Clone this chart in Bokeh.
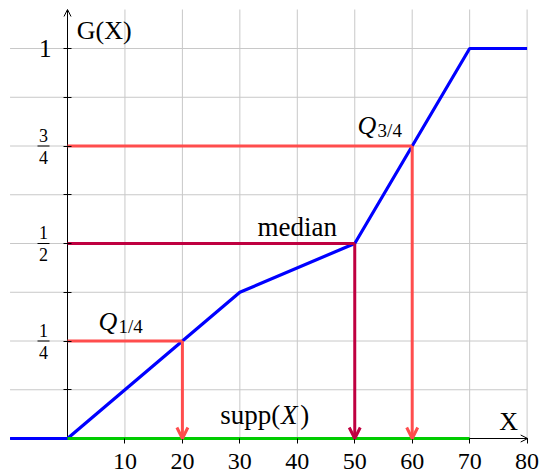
from bokeh.plotting import figure
from bokeh.models import Range1d, LinearAxis, FixedTicker, Arrow, OpenHead, Label
from bokeh.core.properties import value
from bokeh.embed import file_html
from bokeh.resources import INLINE

# ---------------- data ----------------
G_x = [-10, 0, 30, 50, 70, 80]
G_y = [0.0, 0.0, 0.375, 0.5, 1.0, 1.0]
supp_x = [0, 70]
supp_y = [0, 0]
q_levels = [0.25, 0.5, 0.75]
q_values = [20, 50, 60]
q_colors = ["#ff4d4d", "#bf0040", "#ff4d4d"]
x_ticks = [10, 20, 30, 40, 50, 60, 70, 80]
y_ticks = [0.125, 0.25, 0.375, 0.5, 0.625, 0.75, 0.875, 1.0]
y_frac_ticks = [0.25, 0.5, 0.75]
y_frac_num = ["1", "1", "3"]
y_frac_den = ["4", "2", "4"]

# ---------------- layout ----------------
W, H = 542, 476
PX_X = 5.745          # pixels per x unit
PX_Y = 390.0          # pixels per y unit
X0_PX = 67            # x=0 position in figure px
Y0_PX = 438           # y=0 position in figure px (from top)
x_range = Range1d(-X0_PX / PX_X, (W - X0_PX) / PX_X)
y_range = Range1d(-(H - Y0_PX) / PX_Y, Y0_PX / PX_Y)

SERIF = "Liberation Serif"
GRID = "#c8c8c8"

p = figure(width=W, height=H, x_range=x_range, y_range=y_range,
           output_backend="svg", toolbar_location=None, min_border=0,
           x_axis_type=None, y_axis_type=None, outline_line_color=None)
p.xgrid.visible = False
p.ygrid.visible = False

# grid lines
p.segment(x0=x_ticks, y0=[0] * len(x_ticks), x1=x_ticks, y1=[1.1] * len(x_ticks),
          line_color=GRID, line_width=1, level="underlay")
p.segment(x0=[-10] * len(y_ticks), y0=y_ticks, x1=[80] * len(y_ticks), y1=y_ticks,
          line_color=GRID, line_width=1, level="underlay")

# axis arrows
p.add_layout(Arrow(end=OpenHead(size=7, line_width=1, line_color="black"),
                   x_start=0, y_start=0, x_end=0, y_end=1.1,
                   line_color="black", line_width=1, level="underlay"))
p.add_layout(Arrow(end=OpenHead(size=7, line_width=1, line_color="black"),
                   x_start=-10, y_start=0, x_end=80.1, y_end=0,
                   line_color="black", line_width=1, level="underlay"))

# axes (ticks + labels) at the origin
yaxis = LinearAxis(fixed_location=0, ticker=FixedTicker(ticks=y_ticks),
                   axis_line_color=None, major_tick_in=4, major_tick_out=4,
                   major_tick_line_color="black", minor_tick_line_color=None,
                   major_label_standoff=12,
                   major_label_text_font=SERIF, major_label_text_font_size="25px",
                   major_label_text_color="black",
                   major_label_overrides={t: ("1" if t == 1.0 else "") for t in y_ticks})
p.add_layout(yaxis, "left")

xaxis = LinearAxis(fixed_location=0, ticker=FixedTicker(ticks=x_ticks),
                   axis_line_color=None, major_tick_in=0, major_tick_out=5,
                   major_tick_line_color="black", minor_tick_line_color=None,
                   major_label_standoff=10,
                   major_label_text_font=SERIF, major_label_text_font_size="24px",
                   major_label_text_color="black")
p.add_layout(xaxis, "below")

# fraction tick labels
frac_x = [-24 / PX_X] * len(y_frac_ticks)
p.text(x=frac_x, y=y_frac_ticks, text=y_frac_num, text_align="center",
       text_baseline="middle", y_offset=-11, text_font=value(SERIF),
       text_font_size="18px", text_color="black")
p.text(x=frac_x, y=y_frac_ticks, text=y_frac_den, text_align="center",
       text_baseline="middle", y_offset=11, text_font=value(SERIF),
       text_font_size="18px", text_color="black")
p.rect(x=frac_x, y=y_frac_ticks, width=12, height=0.9, width_units="screen",
       height_units="screen", fill_color="black", line_color=None)

# G(X)
p.line(G_x, G_y, line_color="#0000ff", line_width=3.2)

# quantile horizontal lines
p.segment(x0=[0] * len(q_levels), y0=q_levels, x1=q_values, y1=q_levels,
          line_color=q_colors, line_width=3)

# support
p.line(supp_x, supp_y, line_color="#00cc00", line_width=3)

# quantile arrows
for qv, ql, qc in zip(q_values, q_levels, q_colors):
    p.add_layout(Arrow(end=OpenHead(size=11, line_width=3, line_color=qc),
                       x_start=qv, y_start=ql, x_end=qv, y_end=0,
                       line_color=qc, line_width=3))

# text labels
def lab(x, y, text, size="25px", style="normal", align="left", baseline="middle",
        xo=0, yo=0):
    p.add_layout(Label(x=x, y=y, text=text, text_font=SERIF, text_font_size=size,
                       text_font_style=style, text_align=align,
                       text_baseline=baseline, x_offset=xo, y_offset=yo,
                       text_color="black"))

lab(1.6, 1.046, "G(X)", size="26px")
lab(76.8, 0.0436, "X", size="26px", align="center")
lab(40, 0.542, "median", size="27px", align="center")
# supp(X)
lab(38.6, 0.059, "supp(", size="27px", align="right", xo=-9)
lab(38.6, 0.059, "X", size="27px", style="italic", align="center")
lab(38.6, 0.059, ")", size="27px", align="left", xo=11)
# Q_{1/4}
lab(5.4, 0.301, "Q", size="26px", style="italic")
lab(5.4, 0.301, "1/4", size="19px", xo=20, yo=-5)
# Q_{3/4}
lab(50.5, 0.802, "Q", size="26px", style="italic")
lab(50.5, 0.802, "3/4", size="19px", xo=20, yo=-5)

open("out.html", "w").write(file_html(p, INLINE))
